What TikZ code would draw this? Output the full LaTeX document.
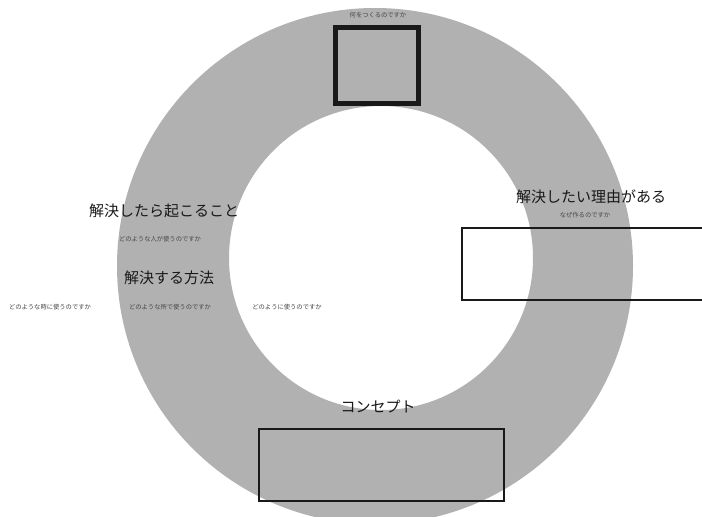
\documentclass[tikz,border=0pt]{standalone}
\usepackage{fontspec}
\newfontfamily\jp{Noto Sans CJK JP}
\definecolor{ringgray}{RGB}{176,177,176}
\definecolor{inkdark}{RGB}{25,25,25}
\definecolor{inksmall}{RGB}{70,70,70}
\begin{document}
\begin{tikzpicture}[x=1pt,y=-1pt,
  bigtext/.style={inner sep=0pt, text=inkdark, font=\jp\fontsize{15}{15}\selectfont},
  smalltext/.style={inner sep=0pt, text=inksmall, font=\jp\fontsize{6.3}{6.3}\selectfont},
  framebox/.style={draw=inkdark, inner sep=0pt}]
\useasboundingbox (0,0) rectangle (702,517);
\fill[white] (0,0) rectangle (702,517);
\begin{scope}
\clip (0,0) rectangle (702,517);
\fill[ringgray, even odd rule] (375,266) circle[radius=258pt] (381,258) circle[radius=152pt];
\node[framebox, line width=4.5pt, fill=ringgray, minimum width=83pt, minimum height=76pt] (topbox) at (377,65.5) {};
\node[framebox, line width=2pt, minimum width=260pt, minimum height=72pt, anchor=west] (rightbox) at (461,264) {};
\node[framebox, line width=2.5pt, minimum width=245pt, minimum height=72pt] (bottombox) at (381.5,465) {};
\end{scope}
\node[smalltext] (q1) at (378,15) {何をつくるのですか};
\node[bigtext] (reason) at (591,197) {解決したい理由がある};
\node[smalltext] (q2) at (585,215) {なぜ作るのですか};
\node[bigtext] (effect) at (164,211) {解決したら起こること};
\node[smalltext] (q3) at (160,239) {どのような人が使うのですか};
\node[bigtext] (method) at (169,278) {解決する方法};
\node[smalltext] (q4) at (50,307) {どのような時に使うのですか};
\node[smalltext] (q5) at (170,307) {どのような所で使うのですか};
\node[smalltext] (q6) at (287,307) {どのように使うのですか};
\node[bigtext] (concept) at (378,407) {コンセプト};
\end{tikzpicture}
\end{document}
